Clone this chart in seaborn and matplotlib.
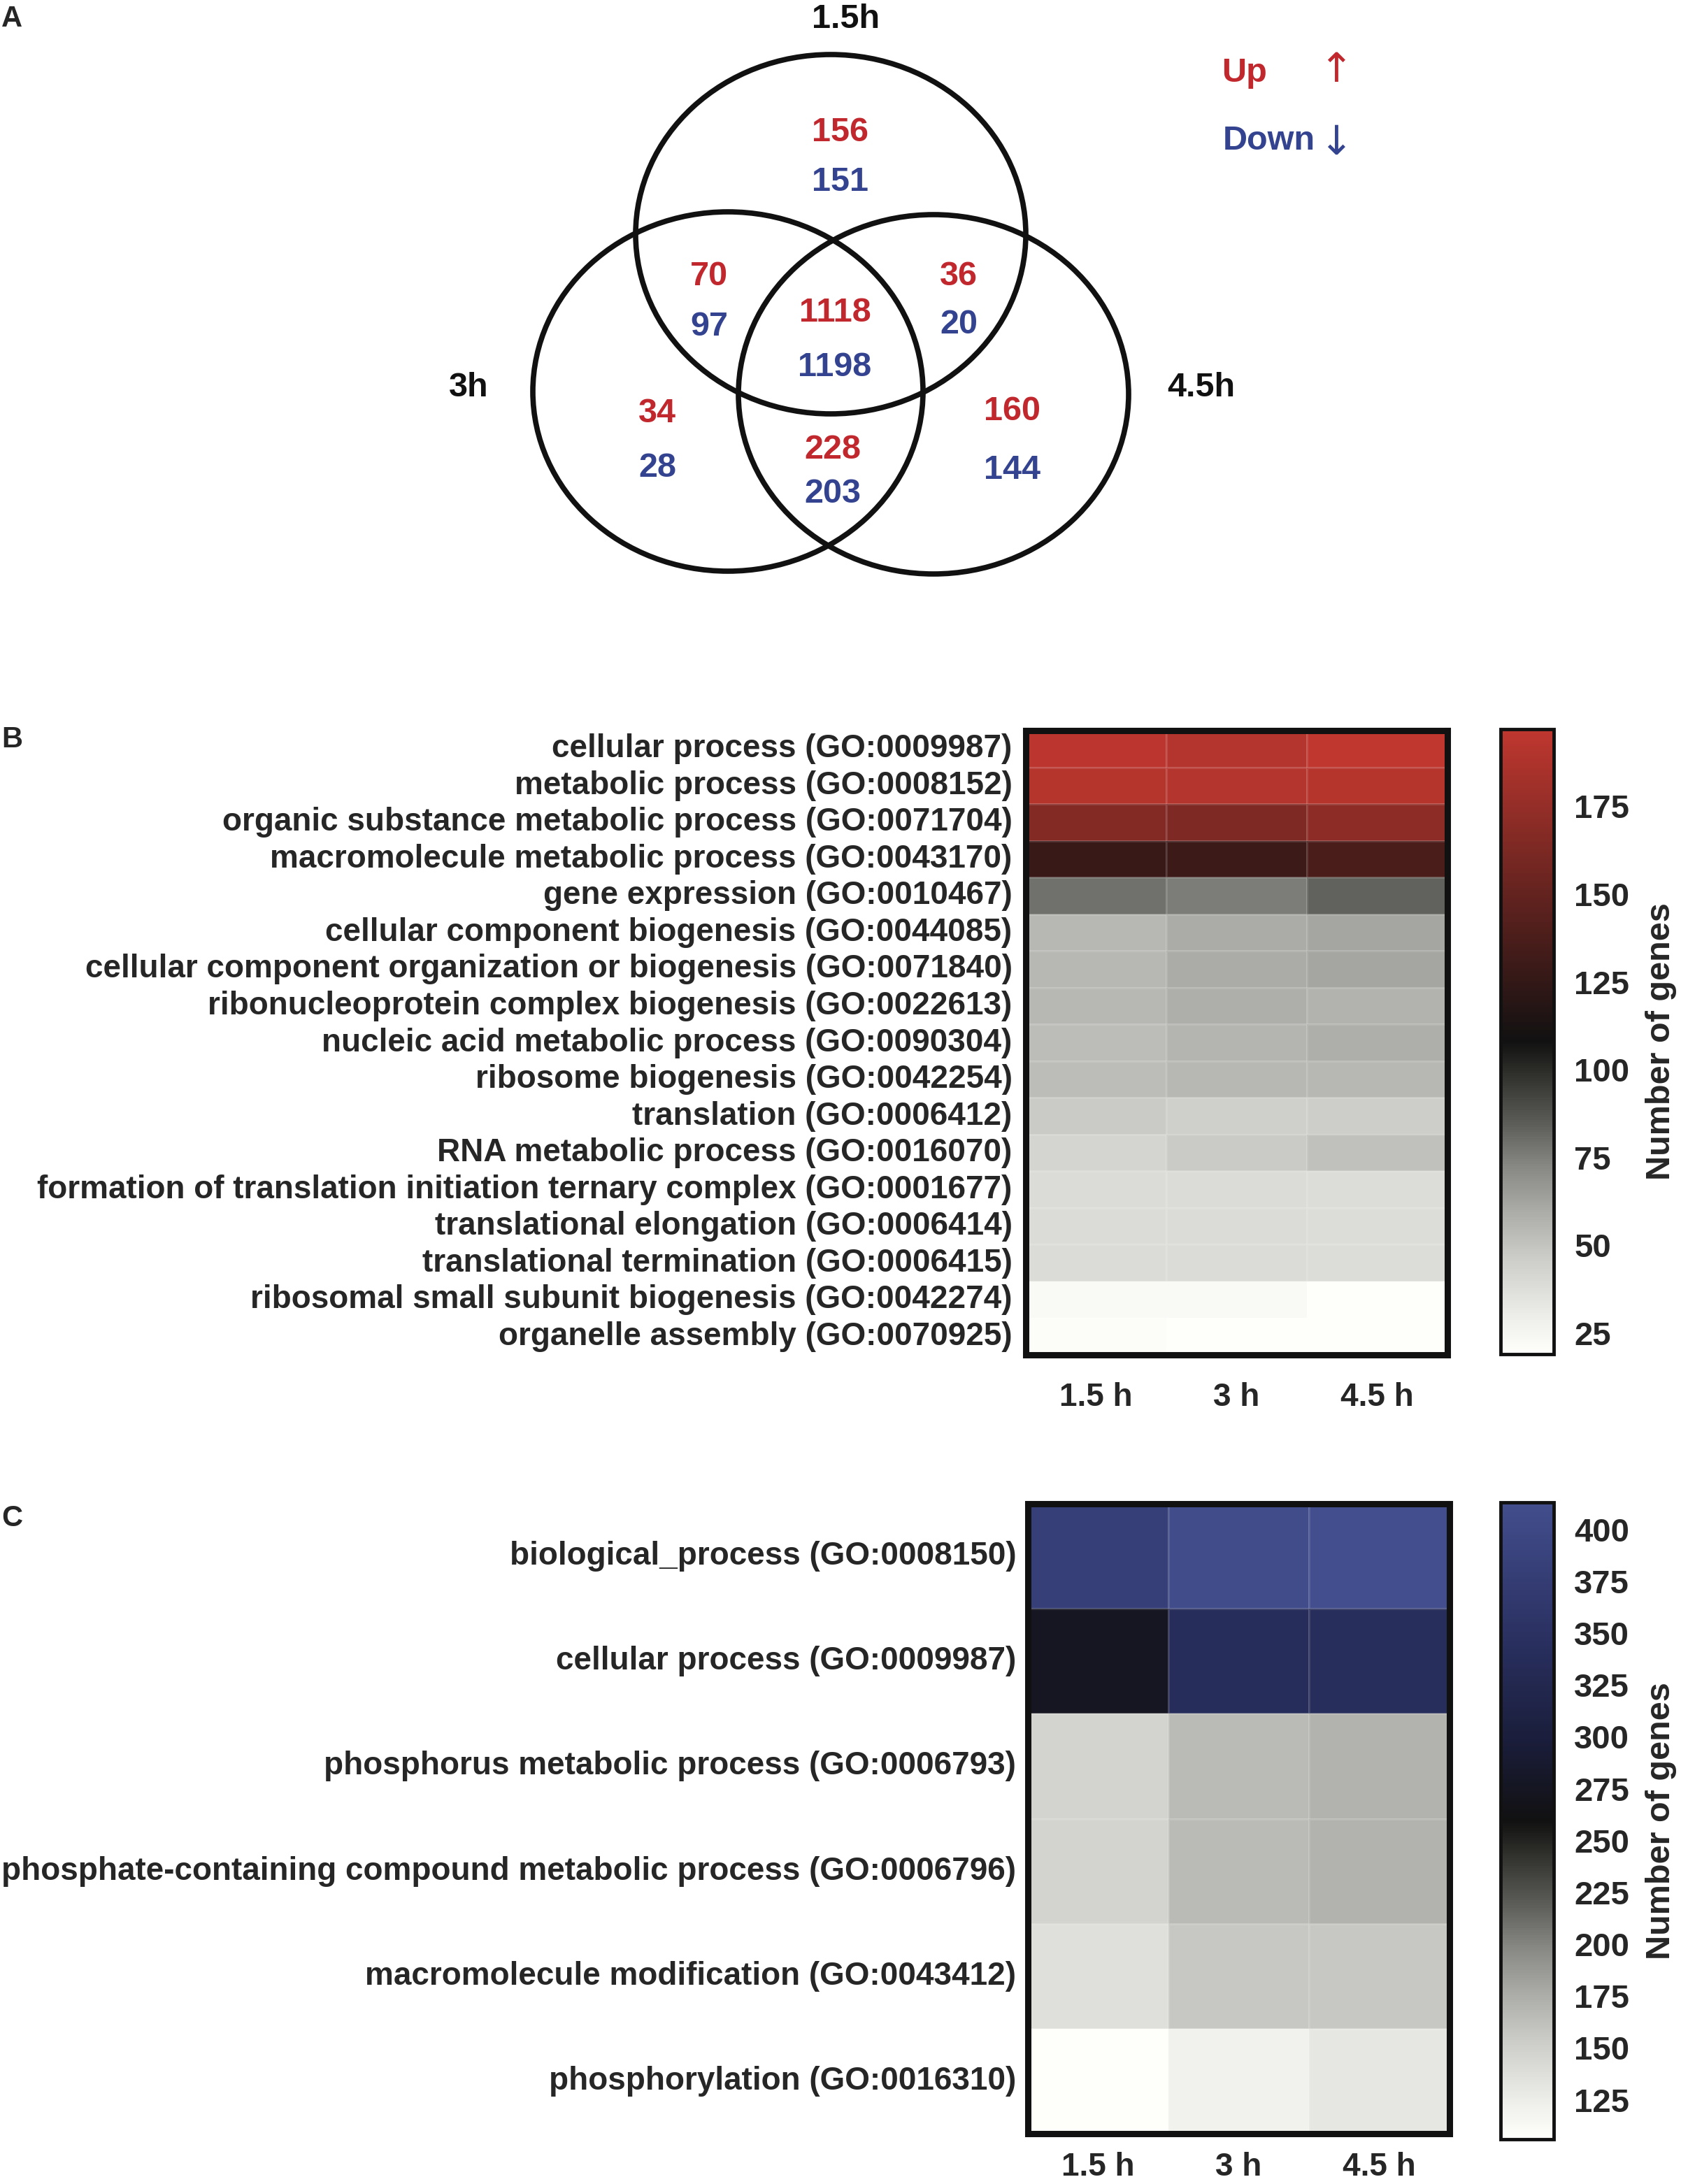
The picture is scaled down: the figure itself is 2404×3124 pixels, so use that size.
import numpy as np
import pandas as pd
import matplotlib
matplotlib.use('Agg')
import matplotlib.pyplot as plt
import seaborn as sns
from matplotlib.patches import Ellipse
from matplotlib.colors import LinearSegmentedColormap

# ---------------- data ----------------
# Venn (A): differentially expressed gene counts per region
venn_regions = ['1.5h only', '1.5h & 3h', 'all', '1.5h & 4.5h', '3h only', '3h & 4.5h', '4.5h only']
venn_up = [156, 70, 1118, 36, 34, 228, 160]
venn_down = [151, 97, 1198, 20, 28, 203, 144]
venn_sets = ['1.5h', '3h', '4.5h']

time_labels = ['1.5 h', '3 h', '4.5 h']

# Heatmap (B): up-regulated GO terms, number of genes
go_up_terms = [
    'cellular process (GO:0009987)',
    'metabolic process (GO:0008152)',
    'organic substance metabolic process (GO:0071704)',
    'macromolecule metabolic process (GO:0043170)',
    'gene expression (GO:0010467)',
    'cellular component biogenesis (GO:0044085)',
    'cellular component organization or biogenesis (GO:0071840)',
    'ribonucleoprotein complex biogenesis (GO:0022613)',
    'nucleic acid metabolic process (GO:0090304)',
    'ribosome biogenesis (GO:0042254)',
    'translation (GO:0006412)',
    'RNA metabolic process (GO:0016070)',
    'formation of translation initiation ternary complex (GO:0001677)',
    'translational elongation (GO:0006414)',
    'translational termination (GO:0006415)',
    'ribosomal small subunit biogenesis (GO:0042274)',
    'organelle assembly (GO:0070925)',
]
up_1_5h = [195, 192, 167, 128, 79, 55, 55, 55, 53, 53, 47, 42, 39, 39, 39, 23, 21]
up_3h = [191, 191, 164, 129, 76, 60, 60, 58, 56, 55, 45, 47, 39, 39, 39, 23, 19]
up_4_5h = [197, 192, 171, 137, 83, 62, 62, 57, 58, 55, 46, 51, 38, 38, 38, 19, 19]

# Heatmap (C): down-regulated GO terms, number of genes
go_down_terms = [
    'biological_process (GO:0008150)',
    'cellular process (GO:0009987)',
    'phosphorus metabolic process (GO:0006793)',
    'phosphate-containing compound metabolic process (GO:0006796)',
    'macromolecule modification (GO:0043412)',
    'phosphorylation (GO:0016310)',
]
down_1_5h = [381, 276, 147, 147, 136, 106]
down_3h = [410, 339, 165, 165, 157, 121]
down_4_5h = [413, 341, 171, 171, 157, 131]

up_ticks = [25, 50, 75, 100, 125, 150, 175]
down_ticks = [125, 150, 175, 200, 225, 250, 275, 300, 325, 350, 375, 400]

RED = '#C0282E'
BLUE = '#34438F'
INK = '#111111'

# ---------------- style ----------------
sns.set_style('white')
plt.rcParams['font.family'] = ['Liberation Sans', 'DejaVu Sans']
plt.rcParams['font.weight'] = 'bold'

W, H = 2404, 3124
fig = plt.figure(figsize=(W / 100, H / 100), dpi=100)


def px_rect(x0, y0, x1, y1):
    return [x0 / W, 1 - y1 / H, (x1 - x0) / W, (y1 - y0) / H]


def make_cmap(name, upper):
    # white -> warm gray -> black (mid), then black -> colour
    gray_nodes = [(0.0, 254), (0.1, 240), (0.3, 205), (0.45, 172),
                  (0.6, 135), (0.75, 88), (0.9, 46)]
    nodes = []
    for f, g in gray_nodes:
        rgb = (g / 255, min(g + 1, 255) / 255, max(g - 4, 0) / 255)
        nodes.append((f * 0.5, rgb))
    for t, c in upper:
        nodes.append((0.5 + t * 0.5, tuple(v / 255 for v in c)))
    return LinearSegmentedColormap.from_list(name, nodes)


red_cmap = make_cmap('gray_red', [(0, (17, 17, 17)), (1, (191, 55, 47))])
blue_cmap = make_cmap('gray_blue', [(0, (17, 17, 17)), (0.25, (26, 29, 58)),
                                    (0.5, (38, 44, 88)), (0.75, (52, 60, 115)),
                                    (1, (66, 78, 141))])

# ---------------- A: Venn ----------------
ax_v = fig.add_axes(px_rect(0, 0, W, 900))
ax_v.set_xlim(0, W)
ax_v.set_ylim(900, 0)
ax_v.axis('off')

circles = {'1.5h': (1188, 335), '3h': (1041, 560), '4.5h': (1335, 564)}
for s in venn_sets:
    ax_v.add_patch(Ellipse(circles[s], 558, 514, fill=False, lw=5.5, ec=INK))

NUM_FS = 35


def ctext(ax, x, y, s, color=INK, fs=NUM_FS, weight='bold', family=None):
    c = fs * 100 / 72 * 0.716
    kw = {} if family is None else {'family': family}
    ax.text(x, y + c / 2, s, ha='center', va='baseline', fontsize=fs,
            color=color, fontweight=weight, **kw)


# (x, y of up label, y of down label) for each region
region_pos = [(1202, 185, 256), (1014, 391, 463), (1194, 443, 521),
              (1371, 391, 460), (940, 587, 665), (1191, 639, 702),
              (1448, 584, 668)]
for (x, yu, yd), u, d in zip(region_pos, venn_up, venn_down):
    ctext(ax_v, x, yu, str(u), RED)
    ctext(ax_v, x, yd, str(d), BLUE)

set_label_pos = [(1210, 23), (670, 550), (1718, 550)]
for (x, y), s in zip(set_label_pos, venn_sets):
    ctext(ax_v, x, y, s)

ctext(ax_v, 1780, 100, 'Up', RED)
ctext(ax_v, 1910, 96, '\u2191', RED, fs=42, weight='normal', family=['DejaVu Sans'])
ctext(ax_v, 1815, 197, 'Down', BLUE)
ctext(ax_v, 1910, 200, '\u2193', BLUE, fs=42, weight='normal', family=['DejaVu Sans'])

# ---------------- heatmaps ----------------
def draw_heat(ax_rect, cax_rect, terms, cols, cmap, ticks, ypad, xpad):
    df = pd.DataFrame(dict(zip(time_labels, cols)), index=terms)
    ax = fig.add_axes(ax_rect)
    cax = fig.add_axes(cax_rect)
    vals = df.values
    sns.heatmap(df, ax=ax, cbar_ax=cax, cmap=cmap,
                vmin=vals.min(), vmax=vals.max(),
                linewidths=0.8, linecolor=(1, 1, 1, 0.12),
                cbar_kws={'ticks': ticks})
    for sp in ax.spines.values():
        sp.set_visible(True)
        sp.set_linewidth(6.5)
        sp.set_color(INK)
    ax.tick_params(axis='y', length=0, pad=ypad, labelsize=33, rotation=0)
    ax.tick_params(axis='x', length=0, pad=xpad, labelsize=33, rotation=0)
    for lab in ax.get_xticklabels() + ax.get_yticklabels():
        lab.set_fontweight('bold')
    ax.set_xlabel('')
    ax.set_ylabel('')

    cbar = ax.collections[0].colorbar
    cbar.outline.set_linewidth(3.5)
    cbar.outline.set_edgecolor(INK)
    cbar.ax.tick_params(direction='in', left=True, right=True, length=9,
                        width=3, color=INK, labelsize=34, pad=21)
    for lab in cbar.ax.get_yticklabels():
        lab.set_fontweight('bold')
    cbar.set_label('Number of genes', fontsize=35, fontweight='bold',
                   labelpad=16)
    return ax


draw_heat(px_rect(1467, 1045, 2070, 1938), px_rect(2146, 1043, 2222, 1937),
          go_up_terms, [up_1_5h, up_3h, up_4_5h], red_cmap, up_ticks, 14, 28)
draw_heat(px_rect(1470, 2151, 2073, 3052), px_rect(2146, 2149, 2222, 3060),
          go_down_terms, [down_1_5h, down_3h, down_4_5h], blue_cmap, down_ticks, 12, 19)

# panel letters
for (x, y), s in zip([(17, 27), (17, 1058), (17, 2172)], ['A', 'B', 'C']):
    fig.text(x / W, 1 - y / H, s, ha='center', va='center', fontsize=30,
             fontweight='bold')

fig.savefig('out.png', dpi=100)
